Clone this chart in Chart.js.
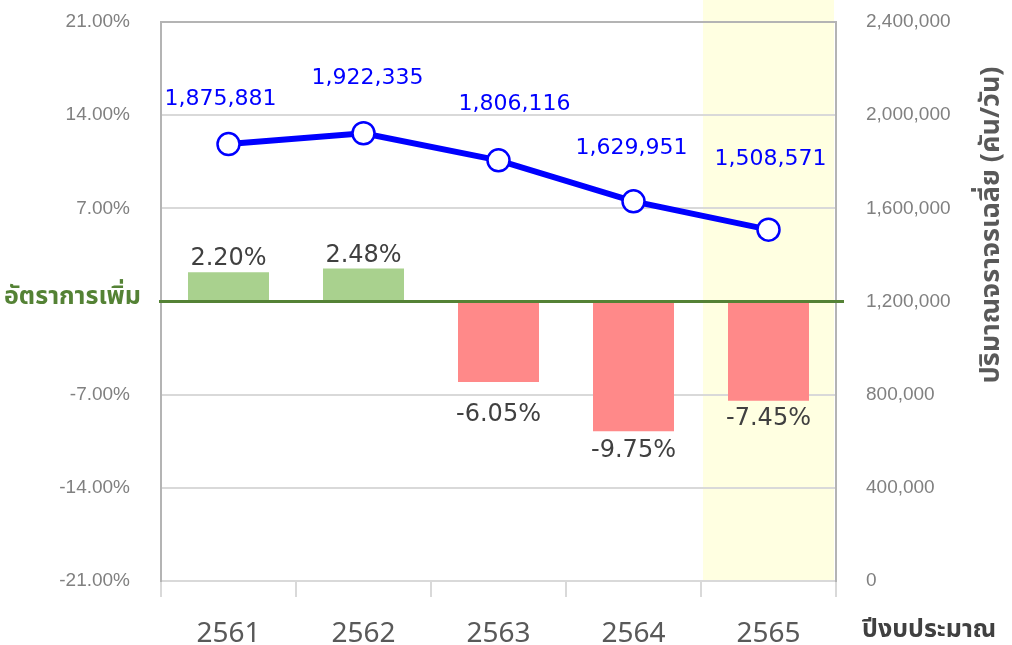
<!DOCTYPE html>
<html>
<head>
<meta charset="utf-8">
<script src="https://cdn.jsdelivr.net/npm/chart.js@4.4.0/dist/chart.umd.min.js"></script>
<style>
  html, body { margin: 0; padding: 0; background: #ffffff; }
  #wrap { width: 1012px; height: 645px; }
</style>
</head>
<body>
<div id="wrap"><canvas id="myChart" width="1012" height="645"></canvas></div>
<script>
// ข้อมูลจากกราฟ
var years = ['2561', '2562', '2563', '2564', '2565'];
var growthRate = [2.20, 2.48, -6.05, -9.75, -7.45];       // อัตราการเพิ่ม (%)
var traffic = [1875881, 1922335, 1806116, 1629951, 1508571]; // ปริมาณจราจรเฉลี่ย (คัน/วัน)
var leftTicks = [-21, -14, -7, 0, 7, 14, 21];
var rightTicks = [0, 400000, 800000, 1200000, 1600000, 2000000, 2400000];
var highlightIndex = 4; // ปี 2565

var leftTitle = 'อัตราการเพิ่ม';
var rightTitle = 'ปริมาณจราจรเฉลี่ย (คัน/วัน)';
var bottomTitle = 'ปีงบประมาณ';

// ตำแหน่งป้ายตัวเลข (เลื่อนจากจุด/แท่ง)
var lineLabelDx = [-8, 4, 16, -2, 2];
var lineLabelLift = [45, 55, 56, 53, 70];
var barLabelGap = [1, 1, 21, 7, 6];

var thaiFont = '"Noto Sans Thai", "Noto Sans", "DejaVu Sans", sans-serif';

function fmtNum(v) {
    return Number(v).toLocaleString('en-US');
}

// วาดพื้นหลังไฮไลต์ เส้นศูนย์ ป้ายข้อมูล และชื่อแกน
var decorPlugin = {
    id: 'decor',
    beforeDraw: function (chart) {
        var ctx = chart.ctx, x = chart.scales.x, area = chart.chartArea;
        var half = (x.getPixelForValue(1) - x.getPixelForValue(0)) / 2;
        var cx = x.getPixelForValue(highlightIndex);
        ctx.save();
        ctx.fillStyle = '#ffffe1';
        ctx.fillRect(cx - half + 2, 0, half * 2 - 4, area.bottom);
        ctx.restore();
    },
    afterDatasetsDraw: function (chart) {
        var ctx = chart.ctx, area = chart.chartArea;
        var y = chart.scales.y;
        ctx.save();
        // กรอบด้านบน
        ctx.strokeStyle = '#b4b4b4';
        ctx.lineWidth = 2;
        ctx.beginPath();
        ctx.moveTo(area.left, area.top);
        ctx.lineTo(area.right, area.top);
        ctx.stroke();

        // เส้นอัตราการเพิ่ม = 0
        var y0 = y.getPixelForValue(0);
        ctx.strokeStyle = '#548235';
        ctx.lineWidth = 3;
        ctx.beginPath();
        ctx.moveTo(area.left - 2, y0);
        ctx.lineTo(area.right + 8, y0);
        ctx.stroke();

        // ป้ายแท่ง
        var barMeta = chart.getDatasetMeta(1);
        ctx.font = '24px "DejaVu Sans", sans-serif';
        ctx.fillStyle = '#404040';
        ctx.textAlign = 'center';
        barMeta.data.forEach(function (bar, i) {
            var v = growthRate[i];
            var txt = v.toFixed(2) + '%';
            if (v >= 0) {
                ctx.textBaseline = 'bottom';
                ctx.fillText(txt, bar.x, bar.y - barLabelGap[i]);
            } else {
                ctx.textBaseline = 'top';
                ctx.fillText(txt, bar.x, bar.y + barLabelGap[i]);
            }
        });

        // ป้ายเส้น
        var lineMeta = chart.getDatasetMeta(0);
        ctx.font = '22px "DejaVu Sans", sans-serif';
        ctx.fillStyle = '#0000ff';
        ctx.textBaseline = 'middle';
        lineMeta.data.forEach(function (pt, i) {
            ctx.fillText(fmtNum(traffic[i]), pt.x + lineLabelDx[i], pt.y - lineLabelLift[i]);
        });
        ctx.restore();
    },
    afterDraw: function (chart) {
        var ctx = chart.ctx;
        var y0 = chart.scales.y.getPixelForValue(0);
        ctx.save();
        ctx.font = 'bold 25px ' + thaiFont;
        ctx.textBaseline = 'middle';

        ctx.fillStyle = '#548235';
        ctx.textAlign = 'left';
        ctx.fillText(leftTitle, 4, y0 - 3);

        ctx.fillStyle = '#404040';
        ctx.fillText(bottomTitle, 862, 632);

        ctx.font = 'bold 27px ' + thaiFont;
        ctx.fillStyle = '#595959';
        ctx.translate(994, 225);
        ctx.rotate(-Math.PI / 2);
        ctx.textAlign = 'center';
        ctx.fillText(rightTitle, 0, 0);
        ctx.restore();
    }
};

function fixWidth(w) {
    return function (scale) {
        scale.width = w;
        scale.paddingTop = 0;
        scale.paddingBottom = 0;
    };
}

var ctx = document.getElementById('myChart').getContext('2d');
var chart = new Chart(ctx, {
    data: {
        labels: years,
        datasets: [
            {
                type: 'line',
                label: rightTitle,
                data: traffic,
                yAxisID: 'y1',
                borderColor: '#0000ff',
                borderWidth: 6,
                pointRadius: 11,
                pointBorderWidth: 2.5,
                pointBackgroundColor: '#ffffff',
                pointBorderColor: '#0000ff',
                tension: 0,
                order: 0
            },
            {
                type: 'bar',
                label: leftTitle,
                data: growthRate,
                yAxisID: 'y',
                backgroundColor: growthRate.map(function (v) { return v >= 0 ? '#a9d18e' : '#ff8989'; }),
                barPercentage: 1,
                categoryPercentage: 0.6,
                order: 1
            }
        ]
    },
    options: {
        responsive: false,
        devicePixelRatio: 1,
        animation: false,
        layout: { padding: { top: 22, left: 0, right: 0, bottom: 0 } },
        plugins: {
            legend: { display: false },
            tooltip: { enabled: false }
        },
        scales: {
            x: {
                offset: true,
                grid: {
                    offset: true,
                    drawOnChartArea: false,
                    drawTicks: true,
                    tickLength: 16,
                    color: '#d9d9d9',
                    lineWidth: 2
                },
                border: { display: true, color: '#d9d9d9', width: 2 },
                ticks: {
                    color: '#595959',
                    font: { family: '"Noto Sans", sans-serif', size: 28 },
                    padding: 20
                },
                afterFit: function (scale) { scale.height = 64; }
            },
            y: {
                position: 'left',
                min: -21,
                max: 21,
                afterBuildTicks: function (scale) {
                    scale.ticks = leftTicks.map(function (v) { return { value: v }; });
                },
                grid: { color: '#d9d9d9', lineWidth: 2, drawTicks: false },
                border: { display: true, color: '#b4b4b4', width: 2 },
                ticks: {
                    color: '#808080',
                    padding: 31,
                    font: { family: '"Liberation Sans", Arial, sans-serif', size: 19 },
                    callback: function (v) { return v === 0 ? '' : v.toFixed(2) + '%'; }
                },
                afterFit: fixWidth(161)
            },
            y1: {
                position: 'right',
                min: 0,
                max: 2400000,
                afterBuildTicks: function (scale) {
                    scale.ticks = rightTicks.map(function (v) { return { value: v }; });
                },
                grid: { drawOnChartArea: false, drawTicks: false },
                border: { display: true, color: '#b4b4b4', width: 2 },
                ticks: {
                    color: '#808080',
                    padding: 30,
                    font: { family: '"Liberation Sans", Arial, sans-serif', size: 19 },
                    callback: function (v) { return fmtNum(v); }
                },
                afterFit: fixWidth(176)
            }
        }
    },
    plugins: [decorPlugin]
});
</script>
</body>
</html>
